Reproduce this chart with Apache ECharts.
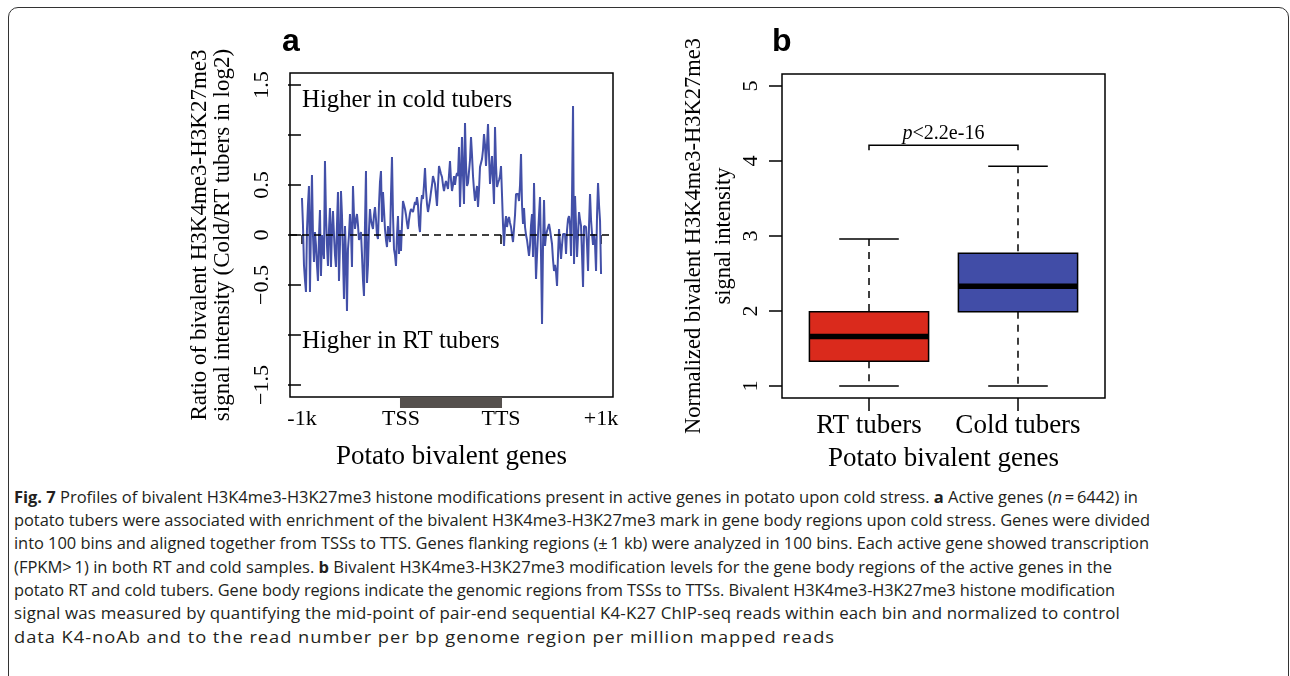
<!DOCTYPE html>
<html>
<head>
<meta charset="utf-8">
<script src="https://cdn.jsdelivr.net/npm/echarts@6/dist/echarts.min.js"></script>
<style>
html,body{margin:0;padding:0;background:#fff;width:1290px;height:676px;overflow:hidden;}
#frame{position:absolute;left:8px;top:7px;width:1281px;height:720px;border:1.5px solid #333;border-radius:10px;box-sizing:border-box;}
#chart{position:absolute;left:0;top:0;width:1290px;height:480px;}
.cap{position:absolute;left:14px;height:23.3px;line-height:23.3px;font-family:"Open Sans",sans-serif;font-size:16px;color:#231f20;white-space:nowrap;}
.cap span.ln{display:inline-block;transform-origin:0 50%;}
</style>
</head>
<body>
<div id="frame"></div>
<div id="chart"></div>
<div id="caption"></div>
<script>
// ---------- data ----------
const upstreamRatio = [0.37,0.10,-0.30,-0.45,-0.57,0.05,0.30,0.49,-0.57,0.10,
 0.60,0.00,-0.27,0.03,-0.10,-0.30,-0.46,-0.02,0.25,-0.41,
 0.00,-0.14,-0.24,0.74,0.20,-0.10,-0.31,0.05,0.27,-0.32,
 0.05,0.24,0.00,-0.20,-0.32,0.10,0.43,-0.46,-0.10,0.44,
 0.20,-0.20,-0.64,0.09,-0.20,-0.76,-0.14,0.00,0.21,0.05,
 -0.32,0.49,0.20,0.06,0.15,0.21,0.10,-0.05,-0.07,0.03,
 -0.20,-0.45,-0.61,0.10,0.64,-0.48,-0.30,0.05,0.26,0.15,
 0.10,0.06,0.20,0.28,0.16,0.00,-0.04,0.30,0.53,0.64,
 0.13,0.43,0.25,0.06,-0.05,-0.12,0.09,0.00,-0.07,0.40,
 0.78,0.20,-0.14,-0.20,-0.31,0.00,0.19,-0.19,0.05,-0.16];
const geneBodyRatio = [0.10,0.34,0.30,0.26,0.20,0.12,0.06,0.15,0.22,0.26,
 0.25,0.23,0.28,0.33,0.30,0.38,0.30,0.10,0.03,0.30,
 0.40,0.36,0.50,0.67,0.45,0.31,0.23,0.23,0.35,0.43,
 0.50,0.59,0.55,0.51,0.40,0.29,0.50,0.69,0.71,0.61,
 0.58,0.50,0.44,0.50,0.54,0.50,0.46,0.60,0.74,0.55,
 0.44,0.50,0.59,0.50,0.58,0.62,0.59,0.88,0.28,0.60,
 0.98,0.60,0.31,1.12,0.70,0.49,0.52,0.54,0.75,0.98,
 0.80,0.59,0.45,0.34,0.42,0.49,0.28,0.45,0.68,0.72,
 0.76,0.85,1.01,0.90,0.69,0.90,1.11,0.80,0.51,0.65,
 0.79,0.55,0.31,1.08,0.70,0.48,0.52,0.55,0.59,0.69];
const downstreamRatio = [0.40,0.10,-0.11,0.10,0.19,0.08,0.15,0.18,0.12,0.08,
 0.00,-0.07,-0.09,0.20,0.41,0.40,0.41,0.34,0.50,0.81,
 0.30,0.11,0.27,0.08,0.00,-0.05,-0.07,-0.21,-0.10,0.10,
 0.21,-0.22,0.52,0.00,-0.44,-0.20,0.01,0.20,0.38,-0.20,
 -0.89,-0.10,0.35,-0.11,0.00,0.04,0.06,0.11,0.05,-0.02,
 -0.09,-0.25,-0.36,-0.30,-0.37,-0.51,-0.20,0.06,0.06,-0.24,
 -0.10,0.01,0.02,0.01,-0.19,0.05,0.16,0.19,0.10,-0.21,
 0.40,1.29,-0.29,0.39,0.10,-0.22,0.00,0.23,0.15,0.09,
 -0.20,-0.52,0.09,0.10,0.08,-0.10,-0.36,0.10,0.41,0.15,
 0.01,-0.10,0.01,-0.10,-0.36,0.20,0.52,0.30,0.14,-0.39];

const profileTickBins = [1, 100, 200, 300];
const profileTickLabels = ['-1k', 'TSS', 'TTS', '+1k'];
const ratioTicks = [-1.5, -1, -0.5, 0, 0.5, 1, 1.5];
const ratioTickLabels = [-1.5, -0.5, 0, 0.5, 1.5];

const boxCategories = ['RT tubers', 'Cold tubers'];
// [position, lower whisker, Q1, median, Q3, upper whisker]
const rtBox   = [1, 1.00, 1.33, 1.66, 1.99, 2.96];
const coldBox = [2, 1.00, 1.99, 2.33, 2.77, 3.93];
const intensityTicks = [1, 2, 3, 4, 5];
const pvalueText = '<2.2e-16';
const bracket = [1, 2, 4.21, 4.145];

// ---------- build ----------
const profile = upstreamRatio.concat(geneBodyRatio, downstreamRatio).map((v, i) => [i + 1, v]);
const SERIF = '"Liberation Serif","Times New Roman",serif';
const boxColors = ['#DA2A1C', '#414DA7'];
const lineBlue = '#4350A8';
const minus = v => (v < 0 ? '\u2212' + Math.abs(v) : String(v));

const chart = echarts.init(document.getElementById('chart'), null, {renderer: 'canvas'});
const yMinA = -1.62, yMaxA = 1.62;

const option = {
  animation: false,
  textStyle: {fontFamily: SERIF, color: '#000'},
  grid: [
    {left: 290, top: 73, width: 323, height: 324, show: true, borderColor: '#000', borderWidth: 1.5, backgroundColor: 'transparent'},
    {left: 782, top: 74, width: 323, height: 324, show: true, borderColor: '#000', borderWidth: 1.5, backgroundColor: 'transparent'}
  ],
  xAxis: [
    {
      type: 'value', gridIndex: 0, min: -10.96, max: 311.96,
      splitLine: {show: false}, axisLine: {show: false},
      axisTick: {show: true, customValues: profileTickBins, length: 9, lineStyle: {color: '#000', width: 1.5}},
      axisLabel: {customValues: profileTickBins, margin: 11, fontSize: 22, color: '#000', fontFamily: SERIF,
        formatter: v => profileTickLabels[profileTickBins.indexOf(v)]},
      name: 'Potato bivalent genes', nameLocation: 'middle', nameGap: 46,
      nameTextStyle: {fontSize: 27, color: '#000', fontFamily: SERIF}
    },
    {
      type: 'value', gridIndex: 1, min: 0.416, max: 2.584,
      splitLine: {show: false}, axisLine: {show: false},
      axisTick: {show: true, customValues: [1, 2], length: 13, lineStyle: {color: '#000', width: 1.5}},
      axisLabel: {customValues: [1, 2], margin: 14, fontSize: 27, color: '#000', fontFamily: SERIF,
        formatter: v => boxCategories[v - 1]},
      name: 'Potato bivalent genes', nameLocation: 'middle', nameGap: 47,
      nameTextStyle: {fontSize: 27, color: '#000', fontFamily: SERIF}
    }
  ],
  yAxis: [
    {
      type: 'value', gridIndex: 0, min: yMinA, max: yMaxA,
      splitLine: {show: false}, axisLine: {show: false},
      axisTick: {show: true, customValues: ratioTicks, length: 13, lineStyle: {color: '#000', width: 1.5}},
      axisLabel: {customValues: ratioTickLabels, rotate: 90, margin: 17, fontSize: 22, color: '#000', fontFamily: SERIF,
        formatter: minus},
      name: 'Ratio of bivalent H3K4me3-H3K27me3\nsignal intensity (Cold/RT tubers in log2)',
      nameLocation: 'middle', nameRotate: 90, nameGap: 56,
      nameTextStyle: {fontSize: 23, lineHeight: 23, color: '#000', fontFamily: SERIF, align: 'center'}
    },
    {
      type: 'value', gridIndex: 1, min: 0.84, max: 5.16,
      splitLine: {show: false}, axisLine: {show: false},
      axisTick: {show: true, customValues: intensityTicks, length: 13, lineStyle: {color: '#000', width: 1.5}},
      axisLabel: {customValues: intensityTicks, rotate: 90, margin: 20, fontSize: 22, color: '#000', fontFamily: SERIF},
      name: 'Normalized bivalent H3K4me3-H3K27me3\nsignal intensity',
      nameLocation: 'middle', nameRotate: 90, nameGap: 42,
      nameTextStyle: {fontSize: 22.5, lineHeight: 30, color: '#000', fontFamily: SERIF, align: 'center'}
    }
  ],
  graphic: [
    {type: 'text', left: 282, top: 26, style: {text: 'a', font: 'bold 32px "Liberation Sans", Arial, sans-serif', fill: '#000'}},
    {type: 'text', left: 772, top: 26, style: {text: 'b', font: 'bold 32px "Liberation Sans", Arial, sans-serif', fill: '#000'}},
    {type: 'text', x: 302, y: 100, style: {text: 'Higher in cold tubers', font: '24.8px ' + SERIF, fill: '#000', verticalAlign: 'middle'}},
    {type: 'text', x: 302, y: 341, style: {text: 'Higher in RT tubers', font: '24.8px ' + SERIF, fill: '#000', verticalAlign: 'middle'}}
  ],
  series: [
    {
      type: 'line', xAxisIndex: 0, yAxisIndex: 0, data: profile, showSymbol: false, symbol: 'none',
      lineStyle: {color: lineBlue, width: 2}, z: 3,
      markLine: {silent: true, symbol: 'none', label: {show: false},
        lineStyle: {color: '#000', width: 1.5, type: [7, 5]}, data: [{yAxis: 0}]}
    },
    {
      type: 'custom', xAxisIndex: 0, yAxisIndex: 0, clip: false, z: 5,
      data: [[profileTickBins[1], profileTickBins[2]]],
      renderItem: (params, api) => {
        const p1 = api.coord([api.value(0), yMinA]);
        const p2 = api.coord([api.value(1), yMinA]);
        return {type: 'rect', shape: {x: p1[0] - 1, y: p1[1], width: p2[0] - p1[0] + 2, height: 11}, style: {fill: '#55504D'}};
      }
    },
    {
      type: 'custom', xAxisIndex: 1, yAxisIndex: 1, clip: false, z: 4,
      data: [rtBox, coldBox],
      renderItem: (params, api) => {
        const x = api.value(0);
        const lo = api.coord([x, api.value(1)]);
        const q1 = api.coord([x, api.value(2)]);
        const md = api.coord([x, api.value(3)]);
        const q3 = api.coord([x, api.value(4)]);
        const hi = api.coord([x, api.value(5)]);
        const w = api.size([0.8, 0])[0];
        const cw = w / 2;
        const cx = lo[0];
        const dash = {stroke: '#000', lineWidth: 1.5, lineDash: [7, 6]};
        const solid = {stroke: '#000', lineWidth: 1.5};
        return {type: 'group', children: [
          {type: 'line', shape: {x1: cx, y1: hi[1], x2: cx, y2: q3[1]}, style: dash},
          {type: 'line', shape: {x1: cx, y1: q1[1], x2: cx, y2: lo[1]}, style: dash},
          {type: 'line', shape: {x1: cx - cw / 2, y1: hi[1], x2: cx + cw / 2, y2: hi[1]}, style: solid},
          {type: 'line', shape: {x1: cx - cw / 2, y1: lo[1], x2: cx + cw / 2, y2: lo[1]}, style: solid},
          {type: 'rect', shape: {x: cx - w / 2, y: q3[1], width: w, height: q1[1] - q3[1]},
            style: {fill: boxColors[params.dataIndex], stroke: '#000', lineWidth: 1.5}},
          {type: 'line', shape: {x1: cx - w / 2, y1: md[1], x2: cx + w / 2, y2: md[1]}, style: {stroke: '#000', lineWidth: 5.5}}
        ]};
      }
    },
    {
      type: 'custom', xAxisIndex: 1, yAxisIndex: 1, clip: false, z: 4,
      data: [bracket],
      renderItem: (params, api) => {
        const a = api.coord([api.value(0), api.value(2)]);
        const b = api.coord([api.value(1), api.value(2)]);
        const foot = api.coord([api.value(0), api.value(3)]);
        const st = {stroke: '#000', lineWidth: 1.5, fill: 'none'};
        return {type: 'group', children: [
          {type: 'polyline', shape: {points: [[a[0], foot[1]], [a[0], a[1]], [b[0], b[1]], [b[0], foot[1]]]}, style: st},
          {type: 'text', x: (a[0] + b[0]) / 2, y: a[1] - 12,
            style: {text: '{i|p}{n|' + pvalueText + '}', align: 'center', verticalAlign: 'middle',
              rich: {i: {fontStyle: 'italic', fontSize: 20, fontFamily: SERIF, fill: '#000', color: '#000'},
                     n: {fontSize: 20, fontFamily: SERIF, fill: '#000', color: '#000'}}}}
        ]};
      }
    }
  ]
};
chart.setOption(option);

// ---------- caption ----------
const captionLines = [
  '<b>Fig. 7</b> Profiles of bivalent H3K4me3-H3K27me3 histone modifications present in active genes in potato upon cold stress. <b>a</b> Active genes (<i>n</i>\u2009=\u20096442) in',
  'potato tubers were associated with enrichment of the bivalent H3K4me3-H3K27me3 mark in gene body regions upon cold stress. Genes were divided',
  'into 100 bins and aligned together from TSSs to TTS. Genes flanking regions (\u00b1\u20091 kb) were analyzed in 100 bins. Each active gene showed transcription',
  '(FPKM>\u20091) in both RT and cold samples. <b>b</b> Bivalent H3K4me3-H3K27me3 modification levels for the gene body regions of the active genes in the',
  'potato RT and cold tubers. Gene body regions indicate the genomic regions from TSSs to TTSs. Bivalent H3K4me3-H3K27me3 histone modification',
  'signal was measured by quantifying the mid-point of pair-end sequential K4-K27 ChIP-seq reads within each bin and normalized to control',
  'data K4-noAb and to the read number per bp genome region per million mapped reads'
];
const lineEnds = [1138, 1150, 1149, 1112, 1115, 1120, 835];
const cap = document.getElementById('caption');
captionLines.forEach((html, i) => {
  const d = document.createElement('div');
  d.className = 'cap';
  d.style.top = (485.8 + i * 23.33) + 'px';
  d.innerHTML = '<span class="ln">' + html + '</span>';
  cap.appendChild(d);
});
function fitCaption() {
  const spans = Array.from(cap.querySelectorAll('span.ln'));
  spans.forEach(s => { s.style.transform = 'none'; s.style.letterSpacing = '0px'; });
  const widths = spans.map(s => s.getBoundingClientRect().width);
  let sum = 0;
  for (let i = 0; i < 6; i++) sum += (lineEnds[i] - 14) / widths[i];
  const k = sum / 6;
  spans.forEach((s, i) => {
    const fit = (lineEnds[i] - 14) / widths[i];
    // split any large mismatch between a mild stretch and mild tracking
    const sc = Math.sqrt(fit * k);
    const n = s.textContent.length;
    const resid = (lineEnds[i] - 14) / sc - widths[i];
    s.style.letterSpacing = (resid / n).toFixed(3) + 'px';
    s.style.transform = 'scaleX(' + sc.toFixed(4) + ')';
  });
}
fitCaption();
if (document.fonts && document.fonts.ready) document.fonts.ready.then(fitCaption);
</script>
</body>
</html>
